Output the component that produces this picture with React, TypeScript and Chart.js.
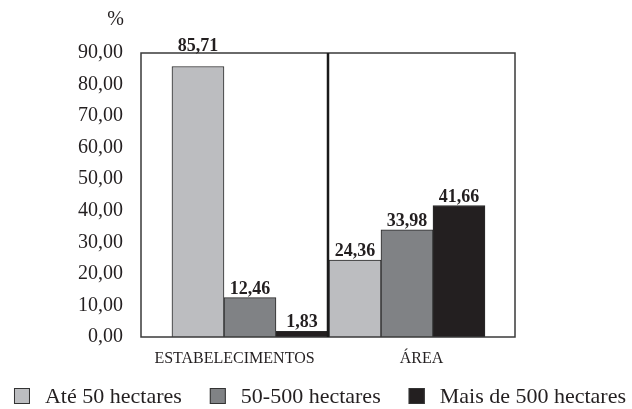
import React, { useEffect, useRef } from "react";
import { Chart, registerables } from "chart.js";

Chart.register(...registerables);

const categories = ["ESTABELECIMENTOS", "ÁREA"];
const seriesLabels = ["Até 50 hectares", "50-500 hectares", "Mais de 500 hectares"];
const ate50 = [85.71, 24.36];
const de50a500 = [12.46, 33.98];
const mais500 = [1.83, 41.66];
const yMin = 0;
const yMax = 90;
const yStep = 10;
const unitLabel = "%";

const FONT = '"Liberation Serif", "Times New Roman", serif';
const INK = "#231f20";
const fillColors = ["#bcbdc0", "#808285", "#231f20"];

const fmt = (v: number) => v.toFixed(2).replace(".", ",");

const decorPlugin = {
  id: "decor",
  afterDatasetsDraw(chart: any) {
    const { ctx, chartArea } = chart;
    const { left, right, top, bottom } = chartArea;
    ctx.save();
    // plot box
    ctx.strokeStyle = "#3a3a3a";
    ctx.lineWidth = 1.5;
    ctx.strokeRect(left, top, right - left, bottom - top);
    // divider between categories
    const x2 = chart.scales.x2;
    const mid = (x2.getPixelForTick(0) + x2.getPixelForTick(1)) / 2;
    ctx.strokeStyle = "#1a1a1a";
    ctx.lineWidth = 2.5;
    ctx.beginPath();
    ctx.moveTo(mid, top);
    ctx.lineTo(mid, bottom);
    ctx.stroke();

    // value labels
    ctx.fillStyle = INK;
    ctx.font = `bold 18px ${FONT}`;
    ctx.textAlign = "center";
    ctx.textBaseline = "alphabetic";
    chart.data.datasets.forEach((ds: any, di: number) => {
      const meta = chart.getDatasetMeta(di);
      meta.data.forEach((el: any, i: number) => {
        const v = ds.data[i].y;
        let y = el.y - 4;
        if (y > top - 2 && y - 14 < top + 2) y = top - 2;
        ctx.fillText(fmt(v), el.x, y);
      });
    });

    // unit label
    const yScale = chart.scales.y;
    ctx.font = `20px ${FONT}`;
    ctx.textAlign = "right";
    ctx.textBaseline = "middle";
    ctx.fillText(unitLabel, yScale.right - 17, 20);

    // legend
    ctx.font = `22px ${FONT}`;
    const box = 16;
    const boxGap = 15;
    const itemGap = 28;
    const widths = chart.data.datasets.map((d: any) => ctx.measureText(d.label).width);
    const total =
      widths.reduce((a: number, w: number) => a + box + boxGap + w, 0) +
      itemGap * (widths.length - 1);
    let x = (chart.width - total) / 2 + 4;
    const cy = 396;
    ctx.textAlign = "left";
    chart.data.datasets.forEach((d: any, i: number) => {
      ctx.fillStyle = d.backgroundColor;
      ctx.fillRect(x, cy - box / 2, box, box);
      ctx.strokeStyle = "#333";
      ctx.lineWidth = 1;
      ctx.strokeRect(x + 0.5, cy - box / 2 + 0.5, box - 1, box - 1);
      ctx.fillStyle = INK;
      ctx.fillText(d.label, x + box + boxGap, cy + 1);
      x += box + boxGap + widths[i] + itemGap;
    });
    ctx.restore();
  },
};

export default function App() {
  const ref = useRef<HTMLCanvasElement>(null);
  useEffect(() => {
    const series = [ate50, de50a500, mais500];
    const chart = new Chart(ref.current as HTMLCanvasElement, {
      type: "bar",
      data: {
        labels: categories,
        datasets: series.map((vals, si) => ({
          label: seriesLabels[si],
          data: vals.map((v, i) => ({ x: i, y: v })),
          backgroundColor: fillColors[si],
          borderColor: "#2a2a2a",
          borderWidth: 1,
          xAxisID: "x",
          yAxisID: "y",
        })),
      },
      options: {
        responsive: false,
        animation: false,
        layout: { padding: { left: 77, right: 117, top: 53, bottom: 42 } },
        datasets: { bar: { barThickness: 52, grouped: true } } as any,
        plugins: { legend: { display: false }, tooltip: { enabled: false } },
        scales: {
          x: {
            type: "linear",
            display: false,
            offset: false,
            bounds: "data",
            min: -0.694,
            max: 1.688,
          } as any,
          x2: {
            type: "category",
            labels: categories,
            position: "bottom",
            offset: true,
            grid: { display: false, drawTicks: false },
            border: { display: false },
            ticks: {
              font: { family: FONT, size: 16 },
              color: INK,
              padding: 12,
              maxRotation: 0,
              autoSkip: false,
            },
            afterFit: (s: any) => {
              s.height = 30;
            },
          } as any,
          y: {
            min: yMin,
            max: yMax,
            grid: { display: false, drawTicks: false },
            border: { display: false },
            ticks: {
              stepSize: yStep,
              font: { family: FONT, size: 20 },
              color: INK,
              padding: 18,
              callback: (v: any) => fmt(Number(v)),
            },
            afterFit: (s: any) => {
              s.width = 64;
            },
          },
        },
      },
      plugins: [decorPlugin],
    });
    return () => chart.destroy();
  }, []);
  return (
    <div style={{ position: "fixed", left: 0, top: 0, width: 632, height: 409, background: "#fff" }}>
      <canvas ref={ref} width={632} height={409} style={{ display: "block" }} />
    </div>
  );
}
